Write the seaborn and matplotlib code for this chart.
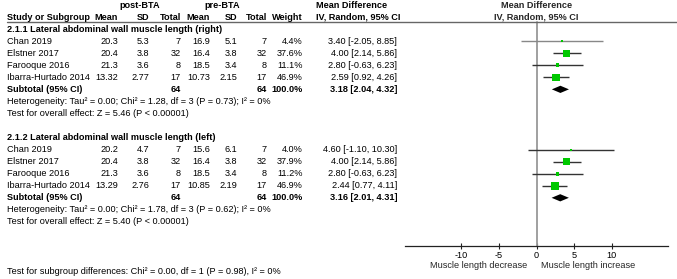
import numpy as np
import pandas as pd
import matplotlib
matplotlib.use("Agg")
import matplotlib.pyplot as plt
import matplotlib.transforms as mtrans
import seaborn as sns

# ---------------- data ----------------
studies = ["Chan 2019", "Elstner 2017", "Farooque 2016", "Ibarra-Hurtado 2014"]
group_titles = ["2.1.1 Lateral abdominal wall muscle length (right)",
                "2.1.2 Lateral abdominal wall muscle length (left)"]

post_n = [7, 32, 8, 17]
pre_n = [7, 32, 8, 17]

g1_post_mean = [20.3, 20.4, 21.3, 13.32]
g1_post_sd = [5.3, 3.8, 3.6, 2.77]
g1_pre_mean = [16.9, 16.4, 18.5, 10.73]
g1_pre_sd = [5.1, 3.8, 3.4, 2.15]
g1_weight = [4.4, 37.6, 11.1, 46.9]
g1_md = [3.40, 4.00, 2.80, 2.59]
g1_lo = [-2.05, 2.14, -0.63, 0.92]
g1_hi = [8.85, 5.86, 6.23, 4.26]
g1_total = [3.18, 2.04, 4.32]
g1_het = "Heterogeneity: Tau² = 0.00; Chi² = 1.28, df = 3 (P = 0.73); I² = 0%"
g1_test = "Test for overall effect: Z = 5.46 (P < 0.00001)"

g2_post_mean = [20.2, 20.4, 21.3, 13.29]
g2_post_sd = [4.7, 3.8, 3.6, 2.76]
g2_pre_mean = [15.6, 16.4, 18.5, 10.85]
g2_pre_sd = [6.1, 3.8, 3.4, 2.19]
g2_weight = [4.0, 37.9, 11.2, 46.9]
g2_md = [4.60, 4.00, 2.80, 2.44]
g2_lo = [-1.10, 2.14, -0.63, 0.77]
g2_hi = [10.30, 5.86, 6.23, 4.11]
g2_total = [3.16, 2.01, 4.31]
g2_het = "Heterogeneity: Tau² = 0.00; Chi² = 1.78, df = 3 (P = 0.62); I² = 0%"
g2_test = "Test for overall effect: Z = 5.40 (P < 0.00001)"

subgroup_test = "Test for subgroup differences: Chi² = 0.00, df = 1 (P = 0.98), I² = 0%"
xticks = [-10, -5, 0, 5, 10]
xlabel_left = "Muscle length decrease"
xlabel_right = "Muscle length increase"

# ---------------- layout ----------------
W, H = 677, 279
sns.set_theme(style="white")
plt.rcParams["font.family"] = ["Liberation Sans", "DejaVu Sans"]
FS = 6.6

fig = plt.figure(figsize=(W / 100, H / 100), dpi=100)
fig.patch.set_facecolor("white")

x0_px, x1_px = 405, 668
ax = fig.add_axes([x0_px / W, 0, (x1_px - x0_px) / W, 1])
ax.set_facecolor("none")
ax.set_xlim(-17.5, 17.5)
# row coordinates: pixel y = 5 + 12.05 * row
row_px = 12.05
ax.set_ylim((H - 5) / row_px, -5 / row_px)

tr = mtrans.blended_transform_factory(fig.transFigure, ax.transData)


def ftext(xpx, row, s, ha="left", bold=False):
    fig.text(xpx / W, row, s, transform=tr, ha=ha, va="center",
             fontsize=FS, fontweight="bold" if bold else "normal", color="black")


def fmt(v):
    return f"{v:g}"


# header
ftext(140, 0, "post-BTA", ha="center", bold=True)
ftext(222, 0, "pre-BTA", ha="center", bold=True)
ftext(316, 0, "Mean Difference", bold=True)
ax.text(0, 0, "Mean Difference", ha="center", va="center", fontsize=FS, fontweight="bold")
ftext(7, 1, "Study or Subgroup", bold=True)
cols = [(118, "Mean"), (149, "SD"), (181, "Total"), (210, "Mean"), (237, "SD"),
        (267, "Total"), (303, "Weight")]
for xp, lab in cols:
    ftext(xp, 1, lab, ha="right", bold=True)
ftext(316, 1, "IV, Random, 95% CI", bold=True)
ax.text(0, 1, "IV, Random, 95% CI", ha="center", va="center", fontsize=FS, fontweight="bold")
fig.add_artist(plt.Line2D([7 / W, 1], [1.45, 1.45], transform=tr, color="#666666", lw=1.0))

groups = [
    (g1_post_mean, g1_post_sd, g1_pre_mean, g1_pre_sd, g1_weight, g1_md, g1_lo, g1_hi,
     g1_total, g1_het, g1_test, 2),
    (g2_post_mean, g2_post_sd, g2_pre_mean, g2_pre_sd, g2_weight, g2_md, g2_lo, g2_hi,
     g2_total, g2_het, g2_test, 11),
]

frames = []
for gi, (pm, ps, qm, qs, w, md, lo, hi, tot, het, test, r0) in enumerate(groups):
    ftext(7, r0, group_titles[gi], bold=True)
    rows = [r0 + 1 + i for i in range(len(studies))]
    for i, r in enumerate(rows):
        ftext(7, r, studies[i])
        ftext(118, r, fmt(pm[i]), ha="right")
        ftext(149, r, fmt(ps[i]), ha="right")
        ftext(181, r, str(post_n[i]), ha="right")
        ftext(210, r, fmt(qm[i]), ha="right")
        ftext(237, r, fmt(qs[i]), ha="right")
        ftext(267, r, str(pre_n[i]), ha="right")
        ftext(303, r, f"{w[i]:.1f}%", ha="right")
        ftext(397, r, f"{md[i]:.2f} [{lo[i]:.2f}, {hi[i]:.2f}]", ha="right")
    rs = r0 + 5
    ftext(7, rs, "Subtotal (95% CI)", bold=True)
    ftext(181, rs, str(sum(post_n)), ha="right", bold=True)
    ftext(267, rs, str(sum(pre_n)), ha="right", bold=True)
    ftext(303, rs, "100.0%", ha="right", bold=True)
    ftext(397, rs, f"{tot[0]:.2f} [{tot[1]:.2f}, {tot[2]:.2f}]", ha="right", bold=True)
    ftext(7, rs + 1, het)
    ftext(7, rs + 2, test)

    # whiskers
    wcol = ["#888888" if gi == 0 and i == 0 else "#333333" for i in range(len(rows))]
    ax.hlines(rows, lo, hi, colors=wcol, lw=1.0, zorder=2)
    frames.append(pd.DataFrame({"row": rows, "md": md, "weight": w}))
    # diamond
    h = 0.3
    ax.fill([tot[1], tot[0], tot[2], tot[0]], [rs, rs - h, rs, rs + h],
            color="black", lw=0, zorder=3)

df = pd.concat(frames, ignore_index=True)
sns.scatterplot(data=df, x="md", y="row", size="weight", sizes=(0, 100 / 1.6),
                size_norm=(0, 100), marker="s", color="#00c800", linewidth=0,
                legend=False, ax=ax, zorder=4)

# zero line
ax.plot([0, 0], [1.45, 20.0], color="#999999", lw=1.3, zorder=1)

# axis
for s in ["top", "left", "right"]:
    ax.spines[s].set_visible(False)
ax.spines["bottom"].set_position(("data", 20.0))
ax.spines["bottom"].set_color("#222222")
ax.spines["bottom"].set_linewidth(0.9)
ax.set_xticks(xticks)
ax.set_xticklabels([str(t) for t in xticks])
ax.tick_params(axis="x", bottom=True, direction="inout", length=4, width=0.8,
               color="#222222", pad=1.5, labelsize=FS, labelcolor="black")
ax.set_yticks([])
ax.set_xlabel("")
ax.set_ylabel("")
ax.grid(False)

ax.text(-1.2, 21.6, xlabel_left, ha="right", va="center", fontsize=FS)
ax.text(0.66, 21.6, xlabel_right, ha="left", va="center", fontsize=FS)

ftext(7, (271 - 5) / row_px, subgroup_test)

fig.savefig("out.png", dpi=100, facecolor="white")
